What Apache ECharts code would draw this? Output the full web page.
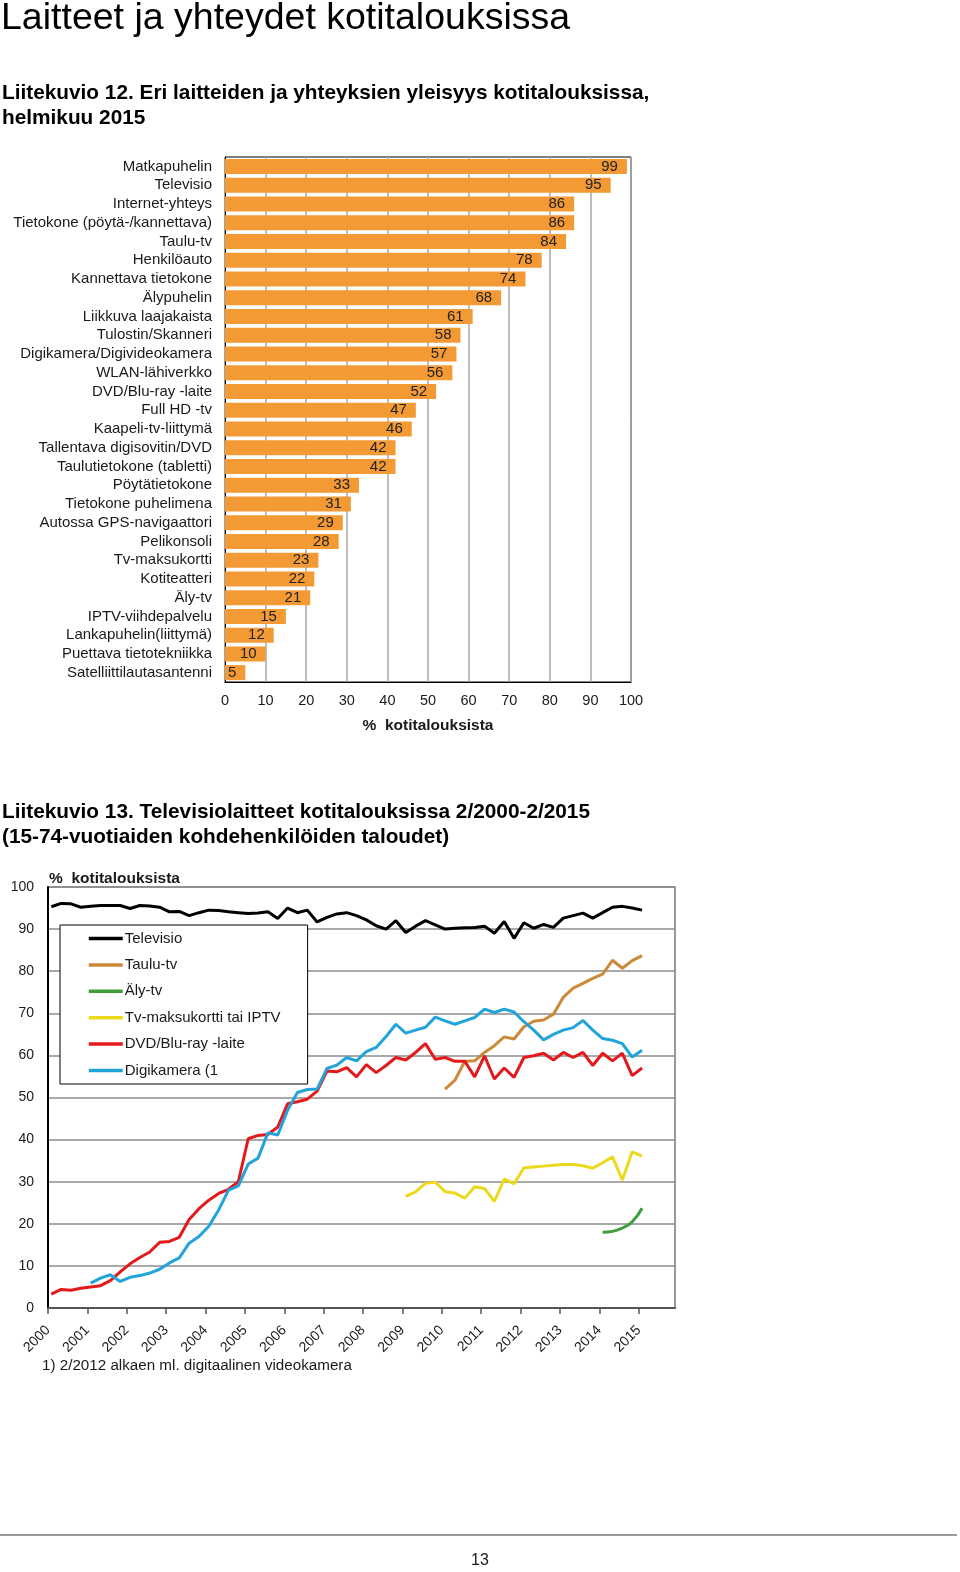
<!DOCTYPE html>
<html>
<head>
<meta charset="utf-8">
<script src="https://cdn.jsdelivr.net/npm/echarts@6/dist/echarts.min.js"></script>
<style>
  html, body { margin: 0; padding: 0; background: #fff; }
  #chart { width: 960px; height: 1572px; }
</style>
</head>
<body>
<div id="chart"></div>
<script>
// ---------- Liitekuvio 12 (bar chart) ----------
const barCategories = [
  'Matkapuhelin', 'Televisio', 'Internet-yhteys', 'Tietokone (pöytä-/kannettava)', 'Taulu-tv',
  'Henkilöauto', 'Kannettava tietokone', 'Älypuhelin', 'Liikkuva laajakaista', 'Tulostin/Skanneri',
  'Digikamera/Digivideokamera', 'WLAN-lähiverkko', 'DVD/Blu-ray -laite', 'Full HD -tv',
  'Kaapeli-tv-liittymä', 'Tallentava digisovitin/DVD', 'Taulutietokone (tabletti)', 'Pöytätietokone',
  'Tietokone puhelimena', 'Autossa GPS-navigaattori', 'Pelikonsoli', 'Tv-maksukortti', 'Kotiteatteri',
  'Äly-tv', 'IPTV-viihdepalvelu', 'Lankapuhelin(liittymä)', 'Puettava tietotekniikka', 'Satelliittilautasantenni'
];
const barValues = [99, 95, 86, 86, 84, 78, 74, 68, 61, 58, 57, 56, 52, 47, 46, 42, 42, 33, 31, 29, 28, 23, 22, 21, 15, 12, 10, 5];
const barTicks = [0, 10, 20, 30, 40, 50, 60, 70, 80, 90, 100];

// ---------- Liitekuvio 13 (line chart), quarterly: Feb, May, Aug, Nov ----------
const years = [2000, 2001, 2002, 2003, 2004, 2005, 2006, 2007, 2008, 2009, 2010, 2011, 2012, 2013, 2014, 2015];

const tvStart = 2000;
const tvValues = [
  95.3, 96.1, 96.0, 95.2,
  95.4, 95.6, 95.6, 95.6,
  94.9, 95.6, 95.5, 95.2,
  94.1, 94.2, 93.2, 93.9,
  94.5, 94.4, 94.1, 93.9,
  93.7, 93.8, 94.1, 92.5,
  95.0, 93.9, 94.5, 91.7,
  92.8, 93.6, 93.9, 93.2,
  92.2, 90.8, 90.0, 92.0,
  89.2, 90.7, 92.0, 91.0,
  90.0, 90.2, 90.3, 90.4,
  90.7, 89.0, 91.8, 87.8,
  91.5, 90.2, 91.1, 90.4,
  92.6, 93.2, 93.8, 92.6,
  93.9, 95.2, 95.4, 95.0,
  94.5
];

const tauluStart = 2010;
const tauluValues = [
  52.0, 54.1, 58.6, 58.7,
  60.7, 62.3, 64.4, 63.9,
  66.8, 68.1, 68.4, 69.8,
  73.8, 76.0, 77.1, 78.3,
  79.3, 82.6, 80.7, 82.5,
  83.7
];

const alyStart = 2014;
const alyValues = [18.0, 18.2, 19.0, 20.5, 23.7];

const maksuStart = 2009;
const maksuValues = [
  26.5, 27.6, 29.6, 29.9,
  27.6, 27.3, 26.1, 28.8,
  28.4, 25.3, 30.6, 29.5,
  33.3, 33.5, 33.7, 33.9,
  34.1, 34.1, 33.8, 33.2,
  34.5, 35.9, 30.4, 37.1,
  36.1
];

const dvdStart = 2000;
const dvdValues = [
  3.3, 4.4, 4.2, 4.7,
  5.0, 5.3, 6.5, 8.6,
  10.5, 12.0, 13.3, 15.6,
  15.8, 16.8, 21.0, 23.6,
  25.6, 27.2, 28.2, 30.0,
  40.2, 41.0, 41.2, 43.0,
  48.5, 49.0, 49.6, 51.5,
  56.3, 56.1, 57.1, 54.9,
  57.8, 55.9, 57.6, 59.5,
  58.9, 60.7, 62.8, 59.1,
  59.5, 58.6, 58.6, 54.9,
  59.9, 54.4, 57.0, 54.8,
  59.5, 59.9, 60.5, 58.9,
  60.7, 59.5, 60.7, 57.6,
  60.5, 58.7, 60.5, 55.2,
  57.0
];

const kameraStart = 2001;
const kameraValues = [
  5.9, 7.1, 7.9, 6.3,
  7.3, 7.7, 8.3, 9.2,
  10.7, 11.9, 15.4, 17.0,
  19.4, 23.3, 28.0, 29.0,
  34.2, 35.6, 41.6, 41.1,
  47.0, 51.2, 51.9, 52.0,
  56.9, 57.7, 59.5, 58.7,
  60.9, 61.9, 64.5, 67.4,
  65.3, 66.0, 66.7, 69.1,
  68.2, 67.4, 68.2, 69.0,
  71.0, 70.2, 71.0, 70.3,
  68.0, 66.0, 63.7, 65.0,
  66.0, 66.6, 68.3, 66.0,
  64.0, 63.6, 62.8, 59.6,
  61.2
];

const lineTicks = [0, 10, 20, 30, 40, 50, 60, 70, 80, 90, 100];

function quarterly(startYear, values) {
  return values.map((v, i) => [startYear + (1 + 3 * i) / 12, v]);
}

const FONT = "'Liberation Sans', Arial, Helvetica, sans-serif";
const TXT = '#1a1a1a';

const chart = echarts.init(document.getElementById('chart'), null, { renderer: 'canvas' });

function lineSeries(name, data, color, extra) {
  return Object.assign({
    name: name,
    type: 'line',
    xAxisIndex: 1,
    yAxisIndex: 1,
    data: data,
    symbol: 'none',
    showSymbol: false,
    lineStyle: { color: color, width: 3 },
    itemStyle: { color: color },
    animation: false,
    z: 3
  }, extra || {});
}

function txt(text, x, y, font, extra) {
  return {
    type: 'text',
    x: x, y: y,
    style: Object.assign({
      text: text, font: font, fill: TXT, align: 'left', verticalAlign: 'middle'
    }, extra || {})
  };
}

const option = {
  animation: false,
  backgroundColor: '#fff',
  textStyle: { fontFamily: FONT },
  graphic: [
    txt('Laitteet ja yhteydet kotitalouksissa', 1, 19, '37.5px ' + FONT, { fill: '#000' }),
    txt('Liitekuvio 12. Eri laitteiden ja yhteyksien yleisyys kotitalouksissa,', 2, 93, 'bold 20.8px ' + FONT, { fill: '#000' }),
    txt('helmikuu 2015', 2, 118, 'bold 20.8px ' + FONT, { fill: '#000' }),
    txt('Liitekuvio 13. Televisiolaitteet kotitalouksissa 2/2000-2/2015', 2, 812, 'bold 20.8px ' + FONT, { fill: '#000' }),
    txt('(15-74-vuotiaiden kohdehenkilöiden taloudet)', 2, 837, 'bold 20.8px ' + FONT, { fill: '#000' }),
    txt('%  kotitalouksista', 49, 879, 'bold 15.5px ' + FONT),
    txt('1) 2/2012 alkaen ml. digitaalinen videokamera', 42, 1366, '15.2px ' + FONT),
    {
      type: 'line',
      shape: { x1: 0, y1: 1535, x2: 957, y2: 1535 },
      style: { stroke: '#9a9a9a', lineWidth: 2 }
    },
    txt('13', 480, 1561, '16px ' + FONT, { align: 'center' })
  ],
  legend: {
    data: ['Televisio', 'Taulu-tv', 'Äly-tv', 'Tv-maksukortti tai IPTV', 'DVD/Blu-ray -laite', 'Digikamera (1'],
    orient: 'vertical',
    left: 60,
    top: 925,
    padding: [6, 27, 6, 27],
    itemGap: 11.4,
    itemWidth: 34,
    itemHeight: 14,
    backgroundColor: '#fff',
    borderColor: '#000',
    borderWidth: 1,
    itemStyle: { opacity: 0 },
    lineStyle: { width: 3.5 },
    textStyle: { fontFamily: FONT, fontSize: 15, color: TXT, padding: [0, 0, 0, -3] },
    selectedMode: false,
    z: 10
  },
  grid: [
    { left: 225, top: 157, width: 406, height: 525, show: true, borderColor: '#000', borderWidth: 1, containLabel: false },
    { left: 48, top: 887, width: 627, height: 421, show: true, borderColor: '#7a7a7a', borderWidth: 1.5, containLabel: false }
  ],
  xAxis: [
    {
      gridIndex: 0,
      type: 'value',
      min: barTicks[0],
      max: barTicks[barTicks.length - 1],
      interval: 10,
      axisLine: { show: true, lineStyle: { color: '#000', width: 1 } },
      axisTick: { show: false },
      axisLabel: { fontFamily: FONT, fontSize: 14.5, color: TXT, margin: 11 },
      splitLine: { show: true, lineStyle: { color: '#a8a8a8', width: 1.5 } },
      name: '%  kotitalouksista',
      nameLocation: 'middle',
      nameGap: 36,
      nameTextStyle: { fontFamily: FONT, fontSize: 15.5, fontWeight: 'bold', color: TXT }
    },
    {
      gridIndex: 1,
      type: 'value',
      min: 2000,
      max: 2015.92,
      interval: 1,
      axisLine: { show: true, lineStyle: { color: '#555', width: 2 } },
      axisTick: { show: true, length: 6, lineStyle: { color: '#555', width: 1.5 }, customValues: years },
      axisLabel: { fontFamily: FONT, fontSize: 14, color: TXT, rotate: 45, margin: 20, customValues: years,
        formatter: v => String(Math.round(v)) },
      splitLine: { show: false }
    }
  ],
  yAxis: [
    {
      gridIndex: 0,
      type: 'category',
      inverse: true,
      data: barCategories,
      axisLine: { show: true, lineStyle: { color: '#000', width: 1 } },
      axisTick: { show: false },
      axisLabel: { fontFamily: FONT, fontSize: 15, color: TXT, margin: 13, interval: 0 },
      splitLine: { show: false }
    },
    {
      gridIndex: 1,
      type: 'value',
      min: lineTicks[0],
      max: lineTicks[lineTicks.length - 1],
      interval: 10,
      axisLine: { show: true, lineStyle: { color: '#000', width: 2 } },
      axisTick: { show: false },
      axisLabel: { fontFamily: FONT, fontSize: 14, color: TXT, margin: 14 },
      splitLine: { show: true, lineStyle: { color: '#8c8c8c', width: 1.5 } }
    }
  ],
  series: [
    {
      type: 'bar',
      xAxisIndex: 0,
      yAxisIndex: 0,
      data: barValues,
      barCategoryGap: '20%',
      itemStyle: { color: '#f39a35' },
      label: { show: true, position: 'insideRight', distance: 9, fontFamily: FONT, fontSize: 15, color: '#222' },
      animation: false,
      z: 2
    },
    lineSeries('Televisio', quarterly(tvStart, tvValues), '#000000'),
    lineSeries('Taulu-tv', quarterly(tauluStart, tauluValues), '#cc8a38'),
    lineSeries('Äly-tv', quarterly(alyStart, alyValues), '#3e9e3a', { smooth: true }),
    lineSeries('Tv-maksukortti tai IPTV', quarterly(maksuStart, maksuValues), '#ecd91c'),
    lineSeries('DVD/Blu-ray -laite', quarterly(dvdStart, dvdValues), '#e3191b'),
    lineSeries('Digikamera (1', quarterly(kameraStart, kameraValues), '#22a3da')
  ]
};

chart.setOption(option);
</script>
</body>
</html>
